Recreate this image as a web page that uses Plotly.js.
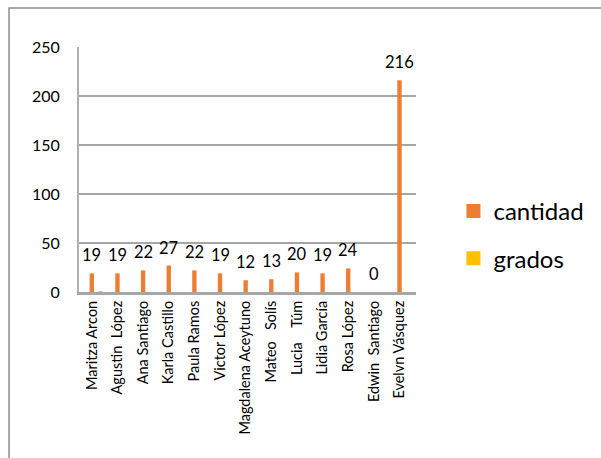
<!DOCTYPE html>
<html>
<head>
<meta charset="utf-8">
<script src="https://cdn.plot.ly/plotly-3.0.1.min.js"></script>
<style>
html,body{margin:0;padding:0;background:#fff;}
#chart{width:601px;height:458px;}
</style>
</head>
<body>
<div id="chart"></div>
<script>
const categories = ["Maritza Arcon","Agustin  López","Ana Santiago","Karla Castillo","Paula Ramos","Victor López","Magdalena Aceytuno","Mateo   Solís","Lucia    Túm","Lidia García","Rosa López","Edwin  Santiago","Evelvn Vásquez"];
const cantidad = [19,19,22,27,22,19,12,13,20,19,24,0,216];
const grados = [1,0,0,0,0,0,0,0,0,0,0,0,0];
const yTicks = [0,50,100,150,200,250];

const FONT = "Lato, 'Open Sans', sans-serif";
const C1 = '#ED7D31', C2 = '#FFC000';

const traces = [
  {type:'bar', name:'cantidad', x:categories, y:cantidad, marker:{color:C1},
   width:0.17, offset:-0.085, showlegend:false, hoverinfo:'none'},
  {type:'bar', name:'grados', x:categories, y:grados, marker:{color:C2},
   width:0.17, offset:0.25, showlegend:false, hoverinfo:'none'},
  {type:'scatter', mode:'markers', name:'cantidad', x:[null], y:[null],
   marker:{symbol:'square', size:14, color:C1}, legendgroup:'a'},
  {type:'scatter', mode:'markers', name:'grados', x:[null], y:[null],
   marker:{symbol:'square', size:14, color:C2}, legendgroup:'b'}
];

const annotations = categories.map((c,i)=>({
  x:c, y:cantidad[i], xref:'x', yref:'y', text:String(cantidad[i]),
  showarrow:false, yanchor:'bottom', yshift:6,
  font:{family:FONT, size:16.5, color:'#000'}
}));

const L=79, R=421, T=47, B=292;
const px = v => (v-L)/(R-L);
const py = v => (B-v)/(B-T);

const layout = {
  width:601, height:458,
  margin:{l:L, r:601-R, t:T, b:458-B, pad:0},
  paper_bgcolor:'#fff', plot_bgcolor:'#fff',
  showlegend:true,
  barmode:'overlay',
  xaxis:{type:'category', tickangle:-90, showgrid:false, zeroline:false,
    showline:true, linecolor:'#a6a6a6', linewidth:3, ticks:'',
    tickfont:{family:FONT, size:14.5, color:'#000'}, fixedrange:true},
  yaxis:{range:[0,250], tickvals:yTicks, showgrid:true, gridcolor:'#a6a6a6', gridwidth:2,
    zeroline:false, showline:true, linecolor:'#b0b0b0', linewidth:2, ticks:'',
    ticklabelstandoff:14,
    tickfont:{family:FONT, size:16, color:'#000'}, fixedrange:true},
  legend:{x:px(459), y:py(189), xanchor:'left', yanchor:'top',
    font:{family:FONT, size:24, color:'#000'}, tracegroupgap:13,
    bgcolor:'rgba(0,0,0,0)'},
  annotations:annotations,
  shapes:[{type:'rect', xref:'paper', yref:'paper',
    x0:px(8), x1:px(640), y0:py(500), y1:py(8),
    line:{color:'#8c8c8c', width:1.5}, fillcolor:'rgba(0,0,0,0)', layer:'below'}]
};

Plotly.newPlot('chart', traces, layout, {displayModeBar:false, staticPlot:true});
</script>
</body>
</html>
